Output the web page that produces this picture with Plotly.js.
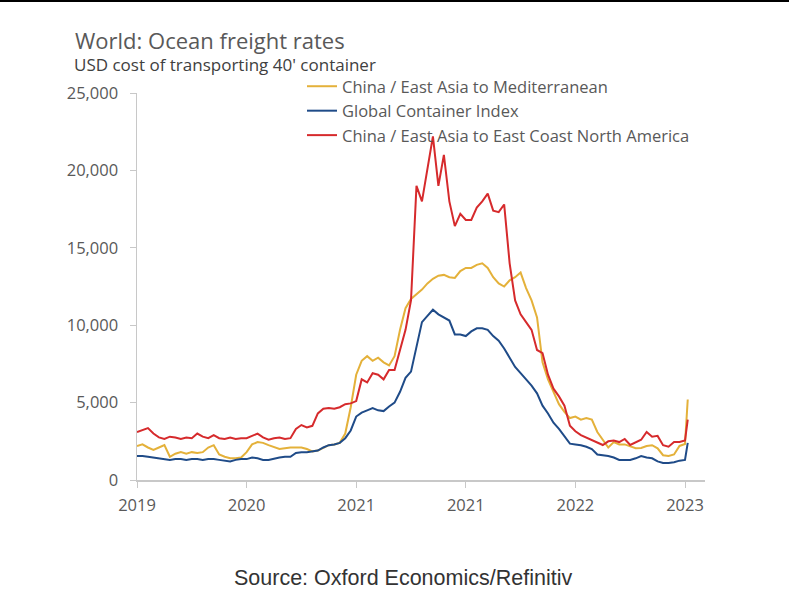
<!DOCTYPE html>
<html>
<head>
<meta charset="utf-8">
<script src="https://cdn.plot.ly/plotly-3.0.1.min.js"></script>
<style>
  html, body { margin: 0; padding: 0; background: #fff; }
  #topline { position: absolute; left: 0; top: 0; width: 789px; height: 2px; background: #000; z-index: 5; }
  #chart { width: 789px; height: 605px; }
</style>
</head>
<body>
<div id="topline"></div>
<div id="chart"></div>
<script>
// Time axis: decimal years, sampled every 0.04 year; the last point is the early-January 2023 reading
const startYear = 2019;
const stepYear = 0.04;
const nRegular = 101;
const lastYear = 2023.02;

// Tick positions and their labels as shown in the source chart
const tickYears = [2019, 2019.8, 2020.6, 2021.4, 2022.2, 2023.0];
const tickLabels = ['2019', '2020', '2021', '2021', '2022', '2023'];

const seriesNames = [
  'China / East Asia to Mediterranean',
  'Global Container Index',
  'China / East Asia to East Coast North America'
];

// USD per 40' container
const mediterranean = [
  2200, 2300, 2100, 1950, 2100, 2250, 1500, 1700, 1800, 1700,
  1800, 1750, 1800, 2100, 2250, 1650, 1500, 1400, 1400, 1450,
  1800, 2300, 2450, 2400, 2250, 2100, 2000, 2050, 2100, 2100,
  2100, 2000, 1850, 1900, 2100, 2250, 2300, 2400, 3000, 4700,
  6800, 7700, 8000, 7700, 7900, 7600, 7400, 8000, 9700, 11100,
  11700, 12000, 12300, 12700, 13000, 13200, 13250, 13100, 13050, 13500,
  13700, 13700, 13900, 14000, 13700, 13100, 12700, 12500, 12900, 13100,
  13400, 12400, 11600, 10500, 7600, 6500, 5700, 4900, 4400, 4000,
  4100, 3900, 4000, 3900, 3100, 2600, 2100, 2450, 2300, 2300,
  2150, 2050, 2070, 2200, 2250, 2050, 1600, 1550, 1650, 2200,
  2330, 5200
];

const globalIndex = [
  1550, 1550, 1500, 1450, 1400, 1350, 1300, 1350, 1350, 1300,
  1350, 1350, 1300, 1350, 1350, 1300, 1250, 1200, 1300, 1350,
  1350, 1450, 1400, 1300, 1300, 1400, 1450, 1500, 1500, 1750,
  1800, 1800, 1850, 1900, 2100, 2250, 2300, 2400, 2700, 3200,
  4100, 4350, 4500, 4650, 4500, 4450, 4750, 5000, 5700, 6600,
  7000, 8500, 10200, 10600, 11000, 10700, 10500, 10300, 9400, 9400,
  9300, 9600, 9800, 9800, 9700, 9300, 9000, 8500, 7900, 7300,
  6900, 6500, 6100, 5600, 4800, 4300, 3700, 3300, 2800, 2350,
  2300, 2250, 2150, 2000, 1650, 1600, 1550, 1450, 1300, 1300,
  1290, 1400, 1550, 1450, 1400, 1200, 1100, 1100, 1150, 1250,
  1300, 2400
];

const eastCoastNA = [
  3100, 3250, 3350, 3000, 2750, 2650, 2800, 2750, 2650, 2750,
  2700, 3000, 2800, 2700, 2900, 2700, 2650, 2750, 2650, 2700,
  2700, 2850, 3000, 2750, 2600, 2700, 2750, 2650, 2700, 3300,
  3550, 3400, 3500, 4300, 4600, 4650, 4600, 4700, 4900, 4950,
  5100, 6500, 6300, 6900, 6800, 6500, 7100, 7100, 8400, 9700,
  11600, 19000, 18000, 20200, 22200, 19000, 21000, 18000, 16400, 17200,
  16800, 16800, 17600, 18000, 18500, 17400, 17300, 17800, 14000, 11600,
  10700, 10200, 9700, 8400, 8200, 6800, 5900, 5400, 4800, 3500,
  3150, 2900, 2750, 2600, 2450, 2260, 2500, 2550, 2450, 2650,
  2260, 2450, 2600, 3100, 2800, 2850, 2250, 2150, 2450, 2450,
  2550, 3900
];

const seriesColors = ['#E4B13A', '#1F4B88', '#D62A2C'];

const years = [];
for (let i = 0; i < nRegular; i++) years.push(+(startYear + i * stepYear).toFixed(2));
years.push(lastYear);

const seriesValues = [mediterranean, globalIndex, eastCoastNA];
const traces = seriesValues.map((vals, k) => ({
  type: 'scatter',
  mode: 'lines',
  name: seriesNames[k],
  x: years,
  y: vals,
  line: { color: seriesColors[k], width: 2 },
  hoverinfo: 'x+y+name'
}));

const grey = '#595959';
const fam = 'Open Sans, Noto Sans, sans-serif';
const layout = {
  width: 789,
  height: 605,
  paper_bgcolor: '#ffffff',
  plot_bgcolor: '#ffffff',
  margin: { l: 137, r: 84, t: 93, b: 125 },
  font: { family: fam, color: grey, size: 16 },
  title: {
    text: 'World: Ocean freight rates',
    font: { family: fam, size: 22, color: grey },
    x: 75 / 789, xref: 'container', xanchor: 'left',
    y: 1 - 41 / 605, yref: 'container', yanchor: 'middle'
  },
  annotations: [
    {
      text: "USD cost of transporting 40' container",
      xref: 'paper', yref: 'paper',
      x: (72 - 137) / 568, y: 1 + (93 - 64.5) / 387,
      xanchor: 'left', yanchor: 'middle', showarrow: false,
      font: { family: fam, size: 17, color: '#404040' }
    },
    {
      text: 'Source: Oxford Economics/Refinitiv',
      xref: 'paper', yref: 'paper',
      x: (403 - 137) / 568, y: -(578 - 480) / 387,
      xanchor: 'center', yanchor: 'middle', showarrow: false,
      font: { family: 'Liberation Sans, Arial, sans-serif', size: 21.5, color: '#333333' }
    }
  ],
  showlegend: true,
  legend: {
    x: (302 - 137) / 568, y: 1 + (93 - 69) / 387,
    xanchor: 'left', yanchor: 'top',
    bgcolor: 'rgba(0,0,0,0)',
    font: { family: fam, size: 16.5, color: grey },
    itemwidth: 30,
    tracegroupgap: 0
  },
  xaxis: {
    range: [2019, 2023.146],
    tickmode: 'array',
    tickvals: tickYears,
    ticktext: tickLabels,
    showgrid: false,
    zeroline: false,
    showline: true,
    linecolor: '#C8C8C8',
    linewidth: 1.5,
    ticks: 'outside',
    ticklen: 6,
    tickcolor: '#C8C8C8',
    ticklabelstandoff: 4,
    tickfont: { size: 16.5, color: grey },
    fixedrange: true
  },
  yaxis: {
    range: [0, 25000],
    tickvals: [0, 5000, 10000, 15000, 20000, 25000],
    tickformat: ',d',
    showgrid: false,
    zeroline: false,
    showline: true,
    linecolor: '#C8C8C8',
    linewidth: 1.5,
    ticks: 'outside',
    ticklen: 6,
    tickcolor: '#C8C8C8',
    ticklabelstandoff: 8,
    tickfont: { size: 16.5, color: grey },
    fixedrange: true
  }
};

Plotly.newPlot('chart', traces, layout, { displayModeBar: false, staticPlot: true });
</script>
</body>
</html>
